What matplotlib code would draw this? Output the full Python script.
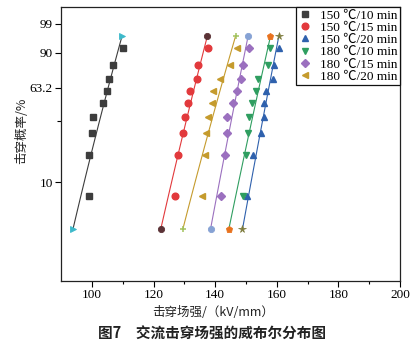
import numpy as np
import matplotlib
matplotlib.use("Agg")
import matplotlib.pyplot as plt
from matplotlib.lines import Line2D
from matplotlib.font_manager import FontProperties

plt.rcParams["font.family"] = ["Liberation Serif", "Noto Sans CJK SC", "DejaVu Serif"]

# Breakdown field strength (kV/mm), sorted ascending within each group
labels = ["150 ℃/10 min", "150 ℃/15 min", "150 ℃/20 min",
          "180 ℃/10 min", "180 ℃/15 min", "180 ℃/20 min"]
e_150_10 = [99.0, 99.0, 99.9, 100.2, 103.5, 104.8, 105.5, 106.7, 110.0]
e_150_15 = [126.9, 127.9, 129.4, 130.3, 131.0, 131.9, 134.1, 134.5, 137.8]
e_150_20 = [150.4, 152.2, 155.0, 155.8, 155.8, 156.5, 158.8, 159.2, 160.8]
e_180_10 = [149.1, 150.1, 150.7, 150.9, 152.0, 153.1, 153.9, 157.1, 157.9]
e_180_15 = [142.0, 143.1, 143.9, 143.9, 145.7, 147.2, 148.4, 149.1, 150.9]
e_180_20 = [135.8, 136.7, 137.0, 137.6, 138.8, 139.4, 141.5, 144.8, 146.9]

# Median-rank failure probability (%) for the 9 specimens
prob = [7.4, 18.1, 28.7, 39.4, 50.0, 60.6, 71.3, 81.9, 92.6]

# Fitted Weibull parameters: scale (kV/mm) and shape
scale = [105.2, 133.2, 157.4, 154.2, 147.3, 141.8]
shape = [29.3, 39.4, 60.2, 51.3, 54.4, 37.0]
fit_prob_range = [3.4, 96.7]

y_ticks = [10, 63.2, 90, 99]
y_tick_labels = ["10", "63.2", "90", "99"]
y_minor = [36.8]
x_ticks = [100, 120, 140, 160, 180, 200]

series = [e_150_10, e_150_15, e_150_20, e_180_10, e_180_15, e_180_20]
colors = ["#3d3d3d", "#e2393c", "#2f61ad", "#2f9e60", "#9b70bf", "#c59b2d"]
markers = ["s", "o", "^", "v", "D", "<"]
msizes = [4.4, 4.8, 5.0, 5.0, 4.2, 5.0]
end_markers = [(">", "#3cb9ca"), ("o", "#5b3236"), ("*", "#7d7b3c"),
               ("p", "#e8721e"), ("o", "#86a2d4"), ("+", "#a2c25c")]


def fwd(p):
    p = np.clip(np.asarray(p, dtype=float), 1e-9, 100 - 1e-9)
    return np.log(-np.log(1 - p / 100.0))


def inv(w):
    return 100.0 * (1 - np.exp(-np.exp(np.asarray(w, dtype=float))))


fig = plt.figure(figsize=(4.12, 3.45), dpi=100)
ax = fig.add_axes([61.3 / 412, 1 - 281 / 345, (400 - 61.3) / 412, (281 - 6.7) / 345])
ax.set_yscale("function", functions=(fwd, inv))

for vals, c, m, ms, (em, ec), a, b in zip(series, colors, markers, msizes,
                                          end_markers, scale, shape):
    pf = np.linspace(fit_prob_range[0], fit_prob_range[1], 60)
    xf = a * (-np.log(1 - pf / 100.0)) ** (1.0 / b)
    ax.plot(xf, pf, color=c, lw=0.8, zorder=2)
    ends_p = np.array(fit_prob_range)
    ends_x = a * (-np.log(1 - ends_p / 100.0)) ** (1.0 / b)
    if em == "+":
        ax.plot(ends_x, ends_p, ls="none", marker=em, ms=5, mew=1.1,
                color=ec, zorder=4)
    elif em == "*":
        ax.plot(ends_x, ends_p, ls="none", marker=em, ms=5.5, mew=0.5,
                mfc=ec, mec=ec, zorder=4)
    else:
        ax.plot(ends_x, ends_p, ls="none", marker=em, ms=4.5, mew=0.6,
                mfc=ec, mec=ec, zorder=4)
    ax.plot(vals, prob, ls="none", marker=m, ms=ms, color=c, mec=c, zorder=3)

ax.set_xlim(90, 200)
ax.set_ylim(1.0, 99.9)
ax.set_xticks(x_ticks)
ax.set_xticks(np.arange(110, 200, 20), minor=True)
ax.set_yticks(y_ticks)
ax.set_yticklabels(y_tick_labels)
ax.set_yticks(y_minor, minor=True)
ax.tick_params(axis="both", which="major", direction="out", length=4,
               width=0.8, labelsize=9.5, pad=2, top=False, right=False)
ax.tick_params(axis="both", which="minor", direction="out", length=2,
               width=0.8, top=False, right=False)
ax.tick_params(axis="y", which="minor", length=3)
for sp in ax.spines.values():
    sp.set_linewidth(0.9)
    sp.set_color("#222222")

handles = [Line2D([], [], ls="none", marker=m, ms=ms, color=c, mec=c)
           for m, ms, c in zip(markers, msizes, colors)]
legend_font = FontProperties(family=["Liberation Serif", "Noto Sans CJK SC",
                                     "DejaVu Serif"], weight="light", size=9.5)
leg = ax.legend(handles, labels, loc="upper right", prop=legend_font,
                frameon=True, fancybox=False, framealpha=1,
                edgecolor="#111111", borderpad=0.2, labelspacing=0.0,
                handlelength=1.0, handletextpad=0.6, borderaxespad=0.0)
leg.get_frame().set_linewidth(0.9)

cjk = ["Noto Sans CJK SC", "DejaVu Sans"]
fig.text(22 / 412, 1 - 131 / 345, "击穿概率/%", rotation=90, ha="center",
         va="center", fontsize=9, family=cjk, color="#222222")
fig.text(213 / 412, 1 - 313 / 345, "击穿场强/（kV/mm）", ha="center",
         va="center", fontsize=9, family=cjk, color="#222222")
fig.text(212 / 412, 1 - 334 / 345, "图7　交流击穿场强的威布尔分布图",
         ha="center", va="center", fontsize=10.5, family=cjk,
         fontweight="bold", color="#222222")

fig.savefig("out.png", dpi=100)
